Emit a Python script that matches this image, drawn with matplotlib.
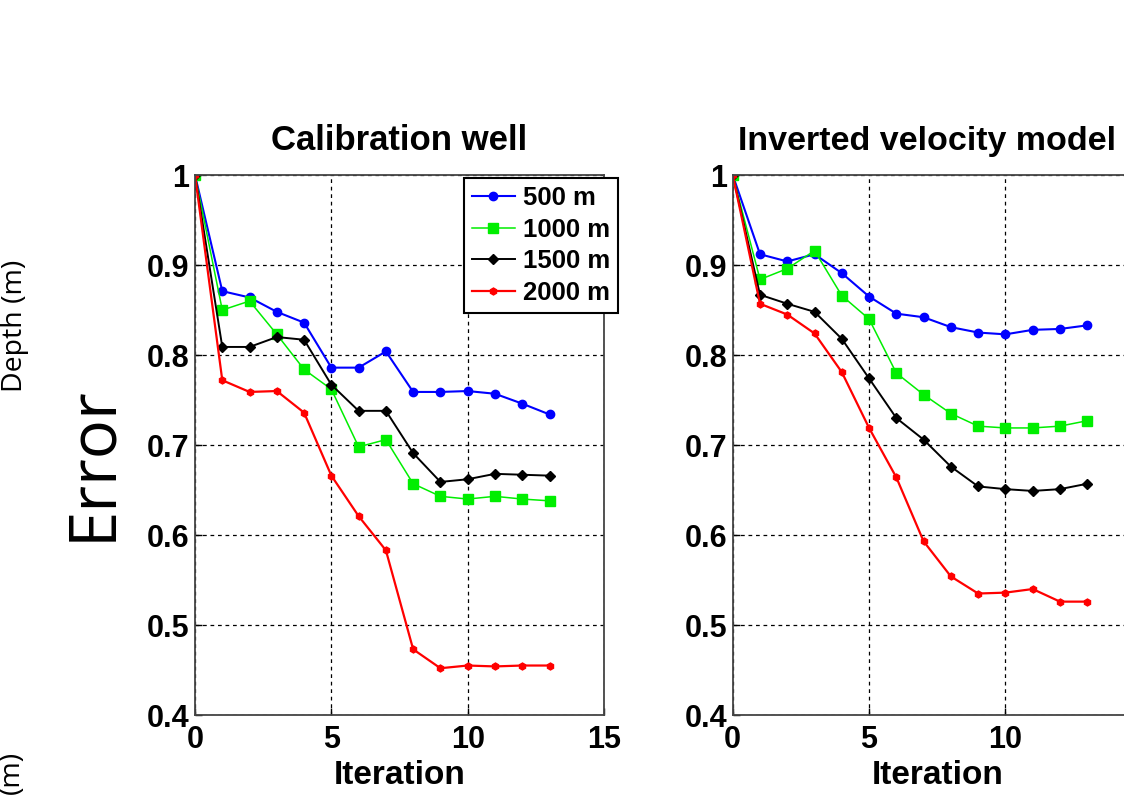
import numpy as np
import matplotlib
matplotlib.use('Agg')
import matplotlib.pyplot as plt

# iteration index shared by all curves
iters = np.arange(0, 14)

# Calibration well (left panel)
cal_500 = [1.0, 0.871, 0.864, 0.848, 0.836, 0.786, 0.786, 0.804, 0.759, 0.759, 0.760, 0.757, 0.746, 0.734]
cal_1000 = [1.0, 0.850, 0.860, 0.823, 0.784, 0.762, 0.698, 0.706, 0.657, 0.643, 0.640, 0.643, 0.640, 0.638]
cal_1500 = [1.0, 0.809, 0.809, 0.820, 0.817, 0.767, 0.738, 0.738, 0.691, 0.659, 0.662, 0.668, 0.667, 0.666]
cal_2000 = [1.0, 0.772, 0.759, 0.760, 0.736, 0.666, 0.621, 0.583, 0.473, 0.452, 0.455, 0.454, 0.455, 0.455]

# Inverted velocity model (right panel)
inv_500 = [1.0, 0.912, 0.904, 0.912, 0.891, 0.865, 0.846, 0.842, 0.831, 0.825, 0.823, 0.828, 0.829, 0.833]
inv_1000 = [1.0, 0.884, 0.896, 0.916, 0.866, 0.840, 0.780, 0.756, 0.735, 0.721, 0.719, 0.719, 0.721, 0.727]
inv_1500 = [1.0, 0.867, 0.857, 0.848, 0.818, 0.774, 0.730, 0.706, 0.676, 0.654, 0.651, 0.649, 0.651, 0.657]
inv_2000 = [1.0, 0.857, 0.845, 0.824, 0.781, 0.719, 0.664, 0.593, 0.554, 0.535, 0.536, 0.540, 0.526, 0.526]

labels = ['500 m', '1000 m', '1500 m', '2000 m']
colors = ['#0000ff', '#00ee00', 'black', '#ff0000']
markers = ['o', 's', 'D', 'h']
msizes = [6, 6.5, 5, 5]
lwidths = [1.5, 1.1, 1.4, 1.6]

plt.rcParams['font.family'] = ['Liberation Sans', 'DejaVu Sans']
plt.rcParams['font.weight'] = 'bold'

fig = plt.figure(figsize=(11.24, 7.95), dpi=100)
ax1 = fig.add_axes([0.1735, 0.1006, 0.3639, 0.6792])
ax2 = fig.add_axes([0.6519, 0.1006, 0.3639, 0.6792])


def draw(ax, series, xlabels):
    for i, y in enumerate(series):
        ax.plot(iters, y, color=colors[i], marker=markers[i], markersize=msizes[i],
                linewidth=lwidths[i], label=labels[i])
    ax.set_xlim(0, 15)
    ax.set_ylim(0.4, 1.0)
    ax.set_xticks([0, 5, 10, 15])
    ax.set_xticklabels(xlabels)
    ax.set_yticks([0.4, 0.5, 0.6, 0.7, 0.8, 0.9, 1.0])
    ax.set_yticklabels(['0.4', '0.5', '0.6', '0.7', '0.8', '0.9', '1'])
    ax.grid(True, color='black', linestyle=(0, (3, 3)), linewidth=0.9)
    ax.tick_params(direction='in', length=5, labelsize=22, width=1)
    ax.tick_params(axis='x', pad=7)
    ax.tick_params(axis='y', pad=4)
    for s in ax.spines.values():
        s.set_color('#444444')
        s.set_linewidth(1.3)
    ax.set_xlabel('Iteration', fontsize=24, fontweight='bold', labelpad=4)


draw(ax1, [cal_500, cal_1000, cal_1500, cal_2000], ['0', '5', '10', '15'])
# the 15 label of the right panel falls outside the picture
draw(ax2, [inv_500, inv_1000, inv_1500, inv_2000], ['0', '5', '10', ''])

ax1.set_title('Calibration well', fontsize=25, fontweight='bold', pad=18)
ax2.set_title('Inverted velocity model', fontsize=24.5, fontweight='bold', pad=18,
              ha='left', x=0.012)

leg = ax1.legend(loc='upper right', bbox_to_anchor=(1.034, 0.994), fontsize=18.5,
                 handlelength=1.7, handletextpad=0.3, borderpad=0.3, labelspacing=0.3,
                 fancybox=False, framealpha=1, borderaxespad=0)
leg.get_frame().set_edgecolor('black')
leg.get_frame().set_linewidth(1.5)

# side labels from the surrounding slide
fig.text(0.013, 0.59, 'Depth (m)', rotation=90, fontsize=20.5, fontweight='normal',
         family='Open Sans', ha='center', va='center')
fig.text(0.083, 0.418, 'Error', rotation=90, fontsize=47, fontweight='normal',
         family='Open Sans', ha='center', va='center')
fig.text(0.011, 0.028, '(m)', rotation=90, fontsize=20.5, fontweight='normal',
         family='Open Sans', ha='center', va='center')

fig.savefig('out.png', dpi=100)
